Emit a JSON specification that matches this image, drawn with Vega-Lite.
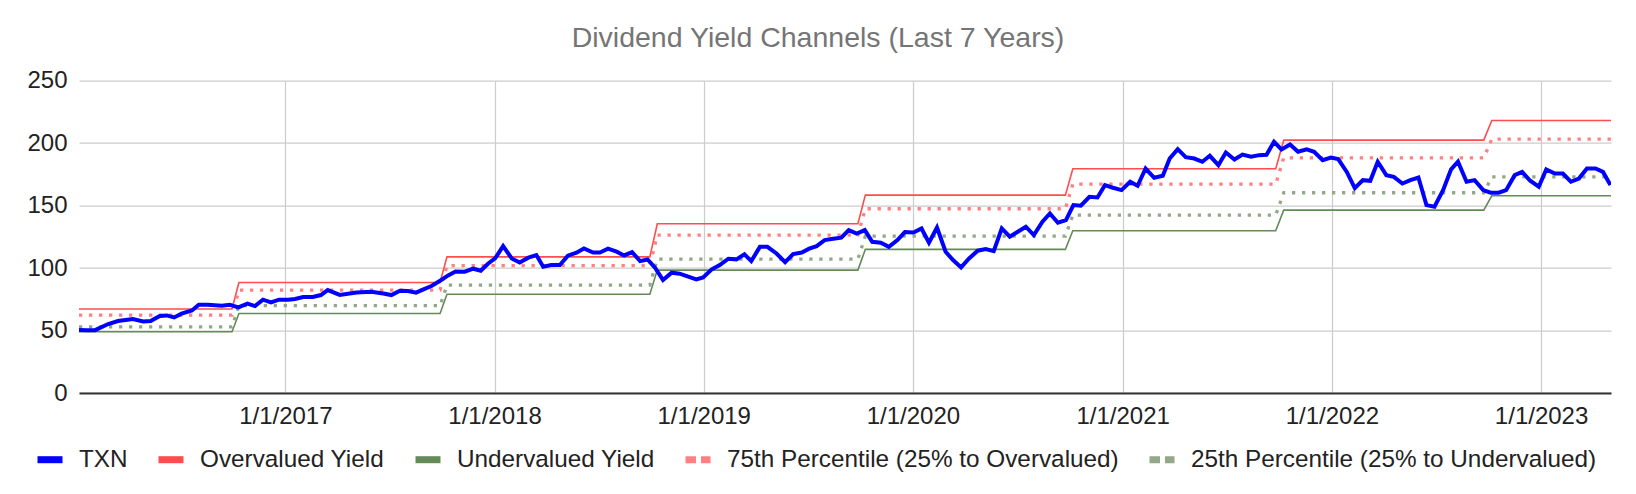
{
  "$schema": "https://vega.github.io/schema/vega-lite/v6.json",
  "autosize": {"type": "none"},
  "width": 1532,
  "height": 312.3,
  "padding": {"left": 79, "top": 80.7, "right": 25, "bottom": 101},
  "background": "#ffffff",
  "config": {
    "font": "Liberation Sans",
    "view": {"stroke": null}
  },
  "title": {
    "text": "Dividend Yield Channels (Last 7 Years)",
    "fontSize": 28.5,
    "font": "Liberation Sans",
    "fontWeight": "normal",
    "color": "#757575",
    "anchor": "middle",
    "frame": "group",
    "dx": -27,
    "baseline": "alphabetic",
    "offset": -7
  },
  "datasets": {
    "txn": [
      {"date": "2016-01-07", "series": "TXN", "value": 50.5},
      {"date": "2016-01-21", "series": "TXN", "value": 50.2},
      {"date": "2016-02-04", "series": "TXN", "value": 50.3},
      {"date": "2016-02-27", "series": "TXN", "value": 55.2},
      {"date": "2016-03-15", "series": "TXN", "value": 57.6},
      {"date": "2016-04-10", "series": "TXN", "value": 59.2},
      {"date": "2016-04-28", "series": "TXN", "value": 57.3},
      {"date": "2016-05-11", "series": "TXN", "value": 57.6},
      {"date": "2016-05-27", "series": "TXN", "value": 61.6},
      {"date": "2016-06-08", "series": "TXN", "value": 62.1},
      {"date": "2016-06-21", "series": "TXN", "value": 60.5},
      {"date": "2016-07-04", "series": "TXN", "value": 63.5},
      {"date": "2016-07-22", "series": "TXN", "value": 66.1},
      {"date": "2016-08-03", "series": "TXN", "value": 70.7},
      {"date": "2016-08-19", "series": "TXN", "value": 70.7},
      {"date": "2016-09-12", "series": "TXN", "value": 69.9},
      {"date": "2016-09-26", "series": "TXN", "value": 70.7},
      {"date": "2016-10-11", "series": "TXN", "value": 68.5},
      {"date": "2016-10-27", "series": "TXN", "value": 71.5},
      {"date": "2016-11-09", "series": "TXN", "value": 69.6},
      {"date": "2016-11-23", "series": "TXN", "value": 74.7},
      {"date": "2016-12-07", "series": "TXN", "value": 72.5},
      {"date": "2016-12-21", "series": "TXN", "value": 74.7},
      {"date": "2017-01-06", "series": "TXN", "value": 74.7},
      {"date": "2017-01-18", "series": "TXN", "value": 75.2},
      {"date": "2017-02-01", "series": "TXN", "value": 76.8},
      {"date": "2017-02-18", "series": "TXN", "value": 76.8},
      {"date": "2017-03-04", "series": "TXN", "value": 78.4},
      {"date": "2017-03-16", "series": "TXN", "value": 82.4},
      {"date": "2017-04-06", "series": "TXN", "value": 78.5},
      {"date": "2017-05-05", "series": "TXN", "value": 80.5},
      {"date": "2017-05-31", "series": "TXN", "value": 81.1},
      {"date": "2017-06-21", "series": "TXN", "value": 79.7},
      {"date": "2017-07-05", "series": "TXN", "value": 78.4},
      {"date": "2017-07-20", "series": "TXN", "value": 81.9},
      {"date": "2017-08-03", "series": "TXN", "value": 81.6},
      {"date": "2017-08-17", "series": "TXN", "value": 80.3},
      {"date": "2017-08-30", "series": "TXN", "value": 82.9},
      {"date": "2017-09-13", "series": "TXN", "value": 85.6},
      {"date": "2017-09-28", "series": "TXN", "value": 89.9},
      {"date": "2017-10-12", "series": "TXN", "value": 94.1},
      {"date": "2017-10-25", "series": "TXN", "value": 97.3},
      {"date": "2017-11-10", "series": "TXN", "value": 97.1},
      {"date": "2017-11-25", "series": "TXN", "value": 99.5},
      {"date": "2017-12-08", "series": "TXN", "value": 97.9},
      {"date": "2017-12-21", "series": "TXN", "value": 103.7},
      {"date": "2018-01-02", "series": "TXN", "value": 107.7},
      {"date": "2018-01-16", "series": "TXN", "value": 117.6},
      {"date": "2018-01-31", "series": "TXN", "value": 107.7},
      {"date": "2018-02-14", "series": "TXN", "value": 104.5},
      {"date": "2018-03-01", "series": "TXN", "value": 108.3},
      {"date": "2018-03-15", "series": "TXN", "value": 110.4},
      {"date": "2018-03-27", "series": "TXN", "value": 101.1},
      {"date": "2018-04-10", "series": "TXN", "value": 102.4},
      {"date": "2018-04-25", "series": "TXN", "value": 102.4},
      {"date": "2018-05-09", "series": "TXN", "value": 109.9},
      {"date": "2018-05-24", "series": "TXN", "value": 112.3},
      {"date": "2018-06-06", "series": "TXN", "value": 115.7},
      {"date": "2018-06-22", "series": "TXN", "value": 112.5},
      {"date": "2018-07-04", "series": "TXN", "value": 112.5},
      {"date": "2018-07-18", "series": "TXN", "value": 115.5},
      {"date": "2018-08-02", "series": "TXN", "value": 113.1},
      {"date": "2018-08-15", "series": "TXN", "value": 110.1},
      {"date": "2018-08-29", "series": "TXN", "value": 112.8},
      {"date": "2018-09-12", "series": "TXN", "value": 105.6},
      {"date": "2018-09-25", "series": "TXN", "value": 106.9},
      {"date": "2018-10-08", "series": "TXN", "value": 100.3},
      {"date": "2018-10-22", "series": "TXN", "value": 90.4},
      {"date": "2018-11-06", "series": "TXN", "value": 96.3},
      {"date": "2018-11-20", "series": "TXN", "value": 95.5},
      {"date": "2018-12-05", "series": "TXN", "value": 93.1},
      {"date": "2018-12-19", "series": "TXN", "value": 91.0},
      {"date": "2018-12-31", "series": "TXN", "value": 92.5},
      {"date": "2019-01-15", "series": "TXN", "value": 99.0},
      {"date": "2019-01-29", "series": "TXN", "value": 102.4},
      {"date": "2019-02-13", "series": "TXN", "value": 107.5},
      {"date": "2019-02-27", "series": "TXN", "value": 107.0},
      {"date": "2019-03-13", "series": "TXN", "value": 111.0},
      {"date": "2019-03-25", "series": "TXN", "value": 105.6},
      {"date": "2019-04-09", "series": "TXN", "value": 117.0},
      {"date": "2019-04-22", "series": "TXN", "value": 117.0},
      {"date": "2019-05-08", "series": "TXN", "value": 111.7},
      {"date": "2019-05-23", "series": "TXN", "value": 104.8},
      {"date": "2019-06-06", "series": "TXN", "value": 111.2},
      {"date": "2019-06-21", "series": "TXN", "value": 112.5},
      {"date": "2019-07-04", "series": "TXN", "value": 115.5},
      {"date": "2019-07-17", "series": "TXN", "value": 117.6},
      {"date": "2019-07-31", "series": "TXN", "value": 122.4},
      {"date": "2019-08-15", "series": "TXN", "value": 123.5},
      {"date": "2019-08-29", "series": "TXN", "value": 124.3},
      {"date": "2019-09-11", "series": "TXN", "value": 130.4},
      {"date": "2019-09-25", "series": "TXN", "value": 127.7},
      {"date": "2019-10-09", "series": "TXN", "value": 130.4},
      {"date": "2019-10-22", "series": "TXN", "value": 121.0},
      {"date": "2019-11-06", "series": "TXN", "value": 120.3},
      {"date": "2019-11-20", "series": "TXN", "value": 117.0},
      {"date": "2019-12-05", "series": "TXN", "value": 122.4},
      {"date": "2019-12-18", "series": "TXN", "value": 128.8},
      {"date": "2020-01-02", "series": "TXN", "value": 128.5},
      {"date": "2020-01-16", "series": "TXN", "value": 131.7},
      {"date": "2020-01-29", "series": "TXN", "value": 120.3},
      {"date": "2020-02-12", "series": "TXN", "value": 132.5},
      {"date": "2020-02-27", "series": "TXN", "value": 113.1},
      {"date": "2020-03-11", "series": "TXN", "value": 106.4},
      {"date": "2020-03-25", "series": "TXN", "value": 100.5},
      {"date": "2020-04-08", "series": "TXN", "value": 107.7},
      {"date": "2020-04-23", "series": "TXN", "value": 113.9},
      {"date": "2020-05-07", "series": "TXN", "value": 115.2},
      {"date": "2020-05-21", "series": "TXN", "value": 113.6},
      {"date": "2020-06-04", "series": "TXN", "value": 131.7},
      {"date": "2020-06-18", "series": "TXN", "value": 125.1},
      {"date": "2020-07-02", "series": "TXN", "value": 129.1},
      {"date": "2020-07-16", "series": "TXN", "value": 133.1},
      {"date": "2020-07-30", "series": "TXN", "value": 126.4},
      {"date": "2020-08-14", "series": "TXN", "value": 137.1},
      {"date": "2020-08-27", "series": "TXN", "value": 143.7},
      {"date": "2020-09-10", "series": "TXN", "value": 136.3},
      {"date": "2020-09-24", "series": "TXN", "value": 138.4},
      {"date": "2020-10-07", "series": "TXN", "value": 150.4},
      {"date": "2020-10-20", "series": "TXN", "value": 149.9},
      {"date": "2020-11-04", "series": "TXN", "value": 157.1},
      {"date": "2020-11-18", "series": "TXN", "value": 156.5},
      {"date": "2020-12-01", "series": "TXN", "value": 166.4},
      {"date": "2020-12-15", "series": "TXN", "value": 164.3},
      {"date": "2020-12-30", "series": "TXN", "value": 162.4},
      {"date": "2021-01-14", "series": "TXN", "value": 169.1},
      {"date": "2021-01-27", "series": "TXN", "value": 165.9},
      {"date": "2021-02-10", "series": "TXN", "value": 179.7},
      {"date": "2021-02-25", "series": "TXN", "value": 172.3},
      {"date": "2021-03-12", "series": "TXN", "value": 173.9},
      {"date": "2021-03-24", "series": "TXN", "value": 187.7},
      {"date": "2021-04-07", "series": "TXN", "value": 195.2},
      {"date": "2021-04-21", "series": "TXN", "value": 188.8},
      {"date": "2021-05-06", "series": "TXN", "value": 187.7},
      {"date": "2021-05-20", "series": "TXN", "value": 185.1},
      {"date": "2021-06-02", "series": "TXN", "value": 189.9},
      {"date": "2021-06-17", "series": "TXN", "value": 182.4},
      {"date": "2021-06-30", "series": "TXN", "value": 192.5},
      {"date": "2021-07-15", "series": "TXN", "value": 186.9},
      {"date": "2021-07-29", "series": "TXN", "value": 190.9},
      {"date": "2021-08-13", "series": "TXN", "value": 189.1},
      {"date": "2021-08-27", "series": "TXN", "value": 190.4},
      {"date": "2021-09-09", "series": "TXN", "value": 190.7},
      {"date": "2021-09-22", "series": "TXN", "value": 201.1},
      {"date": "2021-10-05", "series": "TXN", "value": 195.0},
      {"date": "2021-10-20", "series": "TXN", "value": 199.0},
      {"date": "2021-11-03", "series": "TXN", "value": 193.1},
      {"date": "2021-11-18", "series": "TXN", "value": 195.0},
      {"date": "2021-12-01", "series": "TXN", "value": 193.1},
      {"date": "2021-12-16", "series": "TXN", "value": 186.4},
      {"date": "2021-12-30", "series": "TXN", "value": 188.5},
      {"date": "2022-01-12", "series": "TXN", "value": 187.2},
      {"date": "2022-01-27", "series": "TXN", "value": 177.0},
      {"date": "2022-02-10", "series": "TXN", "value": 164.0},
      {"date": "2022-02-24", "series": "TXN", "value": 170.4},
      {"date": "2022-03-09", "series": "TXN", "value": 169.9},
      {"date": "2022-03-22", "series": "TXN", "value": 185.1},
      {"date": "2022-04-06", "series": "TXN", "value": 174.4},
      {"date": "2022-04-19", "series": "TXN", "value": 173.0},
      {"date": "2022-05-04", "series": "TXN", "value": 167.7},
      {"date": "2022-05-18", "series": "TXN", "value": 170.4},
      {"date": "2022-06-01", "series": "TXN", "value": 172.5},
      {"date": "2022-06-15", "series": "TXN", "value": 150.4},
      {"date": "2022-06-29", "series": "TXN", "value": 149.1},
      {"date": "2022-07-14", "series": "TXN", "value": 162.4},
      {"date": "2022-07-28", "series": "TXN", "value": 179.0},
      {"date": "2022-08-09", "series": "TXN", "value": 185.1},
      {"date": "2022-08-24", "series": "TXN", "value": 169.1},
      {"date": "2022-09-07", "series": "TXN", "value": 170.4},
      {"date": "2022-09-22", "series": "TXN", "value": 162.4},
      {"date": "2022-10-05", "series": "TXN", "value": 160.3},
      {"date": "2022-10-19", "series": "TXN", "value": 160.3},
      {"date": "2022-11-01", "series": "TXN", "value": 162.4},
      {"date": "2022-11-16", "series": "TXN", "value": 174.4},
      {"date": "2022-11-29", "series": "TXN", "value": 177.0},
      {"date": "2022-12-13", "series": "TXN", "value": 169.9},
      {"date": "2022-12-28", "series": "TXN", "value": 165.1},
      {"date": "2023-01-10", "series": "TXN", "value": 179.0},
      {"date": "2023-01-25", "series": "TXN", "value": 175.7},
      {"date": "2023-02-08", "series": "TXN", "value": 175.7},
      {"date": "2023-02-22", "series": "TXN", "value": 169.1},
      {"date": "2023-03-08", "series": "TXN", "value": 171.7},
      {"date": "2023-03-22", "series": "TXN", "value": 179.7},
      {"date": "2023-04-06", "series": "TXN", "value": 179.7},
      {"date": "2023-04-19", "series": "TXN", "value": 177.0},
      {"date": "2023-05-02", "series": "TXN", "value": 166.5}
    ],
    "channels": [
      {"date": "2016-01-07", "series": "Overvalued Yield", "value": 67.2},
      {"date": "2016-09-30", "series": "Overvalued Yield", "value": 67.2},
      {"date": "2016-10-12", "series": "Overvalued Yield", "value": 88.5},
      {"date": "2017-09-28", "series": "Overvalued Yield", "value": 88.5},
      {"date": "2017-10-10", "series": "Overvalued Yield", "value": 109.0},
      {"date": "2018-09-29", "series": "Overvalued Yield", "value": 109.0},
      {"date": "2018-10-12", "series": "Overvalued Yield", "value": 135.5},
      {"date": "2019-09-27", "series": "Overvalued Yield", "value": 135.5},
      {"date": "2019-10-10", "series": "Overvalued Yield", "value": 158.4},
      {"date": "2020-09-23", "series": "Overvalued Yield", "value": 158.4},
      {"date": "2020-10-06", "series": "Overvalued Yield", "value": 179.5},
      {"date": "2021-09-25", "series": "Overvalued Yield", "value": 179.5},
      {"date": "2021-10-09", "series": "Overvalued Yield", "value": 202.4},
      {"date": "2022-09-23", "series": "Overvalued Yield", "value": 202.4},
      {"date": "2022-10-07", "series": "Overvalued Yield", "value": 218.1},
      {"date": "2023-05-03", "series": "Overvalued Yield", "value": 218.1},
      {"date": "2016-01-07", "series": "Undervalued Yield", "value": 49.0},
      {"date": "2016-09-30", "series": "Undervalued Yield", "value": 49.0},
      {"date": "2016-10-12", "series": "Undervalued Yield", "value": 63.7},
      {"date": "2017-09-28", "series": "Undervalued Yield", "value": 63.7},
      {"date": "2017-10-10", "series": "Undervalued Yield", "value": 79.0},
      {"date": "2018-09-29", "series": "Undervalued Yield", "value": 79.0},
      {"date": "2018-10-12", "series": "Undervalued Yield", "value": 98.4},
      {"date": "2019-09-27", "series": "Undervalued Yield", "value": 98.4},
      {"date": "2019-10-10", "series": "Undervalued Yield", "value": 115.0},
      {"date": "2020-09-23", "series": "Undervalued Yield", "value": 115.0},
      {"date": "2020-10-06", "series": "Undervalued Yield", "value": 129.9},
      {"date": "2021-09-25", "series": "Undervalued Yield", "value": 129.9},
      {"date": "2021-10-09", "series": "Undervalued Yield", "value": 146.4},
      {"date": "2022-09-23", "series": "Undervalued Yield", "value": 146.4},
      {"date": "2022-10-07", "series": "Undervalued Yield", "value": 157.9},
      {"date": "2023-05-03", "series": "Undervalued Yield", "value": 157.9},
      {"date": "2016-01-07", "series": "75th Percentile (25% to Overvalued)", "value": 62.4},
      {"date": "2016-09-30", "series": "75th Percentile (25% to Overvalued)", "value": 62.4},
      {"date": "2016-10-12", "series": "75th Percentile (25% to Overvalued)", "value": 82.4},
      {"date": "2017-09-28", "series": "75th Percentile (25% to Overvalued)", "value": 82.4},
      {"date": "2017-10-10", "series": "75th Percentile (25% to Overvalued)", "value": 101.9},
      {"date": "2018-09-29", "series": "75th Percentile (25% to Overvalued)", "value": 101.9},
      {"date": "2018-10-12", "series": "75th Percentile (25% to Overvalued)", "value": 126.4},
      {"date": "2019-09-27", "series": "75th Percentile (25% to Overvalued)", "value": 126.4},
      {"date": "2019-10-10", "series": "75th Percentile (25% to Overvalued)", "value": 147.5},
      {"date": "2020-09-23", "series": "75th Percentile (25% to Overvalued)", "value": 147.5},
      {"date": "2020-10-06", "series": "75th Percentile (25% to Overvalued)", "value": 167.2},
      {"date": "2021-09-25", "series": "75th Percentile (25% to Overvalued)", "value": 167.2},
      {"date": "2021-10-09", "series": "75th Percentile (25% to Overvalued)", "value": 188.3},
      {"date": "2022-09-23", "series": "75th Percentile (25% to Overvalued)", "value": 188.3},
      {"date": "2022-10-07", "series": "75th Percentile (25% to Overvalued)", "value": 203.2},
      {"date": "2023-05-03", "series": "75th Percentile (25% to Overvalued)", "value": 203.2},
      {"date": "2016-01-07", "series": "25th Percentile (25% to Undervalued)", "value": 53.0},
      {"date": "2016-09-30", "series": "25th Percentile (25% to Undervalued)", "value": 53.0},
      {"date": "2016-10-12", "series": "25th Percentile (25% to Undervalued)", "value": 69.9},
      {"date": "2017-09-28", "series": "25th Percentile (25% to Undervalued)", "value": 69.9},
      {"date": "2017-10-10", "series": "25th Percentile (25% to Undervalued)", "value": 86.4},
      {"date": "2018-09-29", "series": "25th Percentile (25% to Undervalued)", "value": 86.4},
      {"date": "2018-10-12", "series": "25th Percentile (25% to Undervalued)", "value": 107.2},
      {"date": "2019-09-27", "series": "25th Percentile (25% to Undervalued)", "value": 107.2},
      {"date": "2019-10-10", "series": "25th Percentile (25% to Undervalued)", "value": 125.6},
      {"date": "2020-09-23", "series": "25th Percentile (25% to Undervalued)", "value": 125.6},
      {"date": "2020-10-06", "series": "25th Percentile (25% to Undervalued)", "value": 142.4},
      {"date": "2021-09-25", "series": "25th Percentile (25% to Undervalued)", "value": 142.4},
      {"date": "2021-10-09", "series": "25th Percentile (25% to Undervalued)", "value": 160.3},
      {"date": "2022-09-23", "series": "25th Percentile (25% to Undervalued)", "value": 160.3},
      {"date": "2022-10-07", "series": "25th Percentile (25% to Undervalued)", "value": 173.0},
      {"date": "2023-05-03", "series": "25th Percentile (25% to Undervalued)", "value": 173.0}
    ]
  },
  "encoding": {
    "x": {
      "field": "date",
      "type": "temporal",
      "scale": {"domain": [{"year": 2016, "month": 1, "date": 7}, {"year": 2023, "month": 5, "date": 3}]},
      "axis": {
        "title": null,
        "format": "%-m/%-d/%Y",
        "tickCount": {"interval": "year", "step": 1},
        "grid": true,
        "gridColor": "#cccccc",
        "gridWidth": 1.2,
        "ticks": false,
        "labelPadding": 11,
        "labelFontSize": 24,
        "labelFont": "Liberation Sans",
        "labelColor": "#222222",
        "labelFlush": false,
        "labelOverlap": false,
        "domainColor": "#333333",
        "domainWidth": 1.8
      }
    },
    "y": {
      "field": "value",
      "type": "quantitative",
      "scale": {"domain": [0, 250], "nice": false},
      "axis": {
        "title": null,
        "values": [0, 50, 100, 150, 200, 250],
        "grid": true,
        "gridColor": "#cccccc",
        "gridWidth": 1.2,
        "domain": false,
        "ticks": false,
        "labelPadding": 12,
        "labelFontSize": 24,
        "labelFont": "Liberation Sans",
        "labelColor": "#222222"
      }
    },
    "color": {
      "field": "series",
      "type": "nominal",
      "scale": {
        "domain": ["TXN", "Overvalued Yield", "Undervalued Yield", "75th Percentile (25% to Overvalued)", "25th Percentile (25% to Undervalued)"],
        "range": ["#0000ff", "#ff4c4c", "#648a58", "#ff8080", "#92a888"]
      },
      "legend": {
        "orient": "none",
        "legendX": -45,
        "legendY": 363,
        "direction": "horizontal",
        "title": null,
        "symbolType": "stroke",
        "symbolSize": 625,
        "symbolStrokeWidth": 7,
        "labelFontSize": 24.3,
        "labelFont": "Liberation Sans",
        "labelColor": "#222222",
        "labelOffset": 13,
        "columnPadding": 16,
        "labelLimit": 1000,
        "padding": 0,
        "encode": {
          "symbols": {
            "update": {
              "strokeDash": {"signal": "indexof(datum.value, 'Percentile') >= 0 ? [10.5, 5] : [25, 0]"},
              "strokeWidth": {"value": 7},
              "opacity": {"value": 1}
            }
          }
        }
      }
    }
  },
  "layer": [
    {
      "data": {"name": "channels"},
      "transform": [{"filter": {"field": "series", "oneOf": ["Overvalued Yield", "Undervalued Yield"]}}],
      "mark": {"type": "line", "strokeWidth": 1.6, "clip": true}
    },
    {
      "data": {"name": "channels"},
      "transform": [{"filter": {"field": "series", "oneOf": ["75th Percentile (25% to Overvalued)", "25th Percentile (25% to Undervalued)"]}}],
      "mark": {"type": "line", "strokeWidth": 3.3, "strokeDash": [3.3, 6.7], "clip": true}
    },
    {
      "data": {"name": "txn"},
      "mark": {"type": "line", "strokeWidth": 4, "clip": true}
    }
  ]
}
